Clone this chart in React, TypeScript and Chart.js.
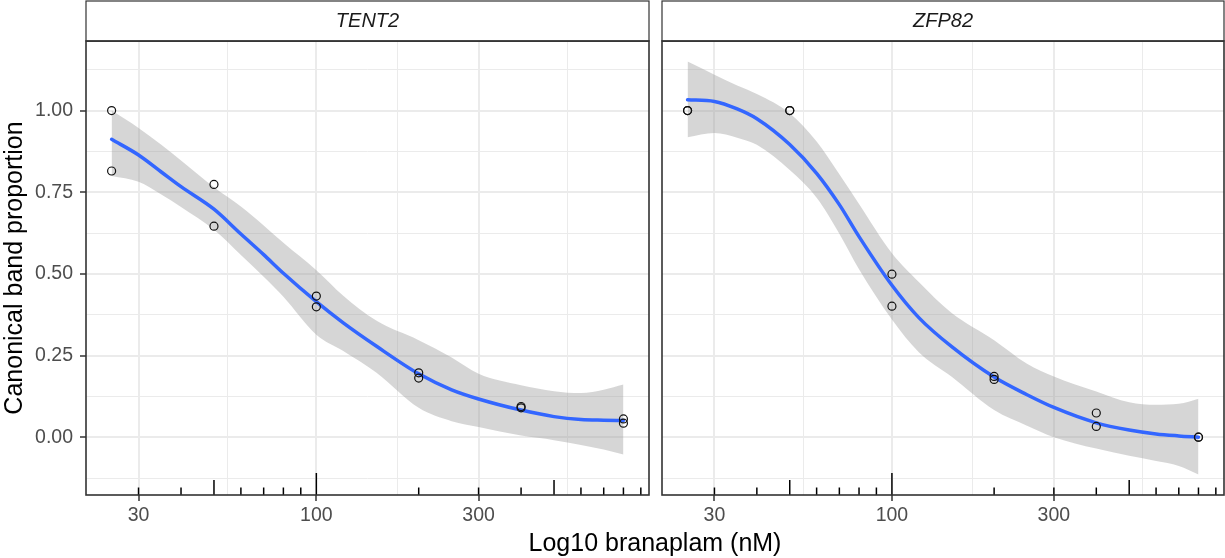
import React, { useEffect, useRef } from 'react';
import { Chart, registerables } from 'chart.js';

Chart.register(...registerables);

const doses = [25, 30, 35, 40, 50, 60, 70, 80, 100, 120, 150, 200, 250, 300, 400, 500, 600, 700, 800];

const tent2Fit = [0.912, 0.864, 0.812, 0.767, 0.698, 0.622, 0.559, 0.502, 0.415, 0.35, 0.279, 0.194, 0.145, 0.117, 0.083, 0.063, 0.054, 0.052, 0.051];
const tent2Upper = [1.0, 0.947, 0.895, 0.847, 0.765, 0.706, 0.648, 0.595, 0.511, 0.433, 0.357, 0.297, 0.244, 0.194, 0.159, 0.141, 0.135, 0.145, 0.161];
const tent2Lower = [0.8, 0.782, 0.743, 0.705, 0.635, 0.558, 0.491, 0.43, 0.314, 0.264, 0.198, 0.09, 0.049, 0.031, 0.005, -0.009, -0.024, -0.038, -0.053];

const zfp82Fit = [1.033, 1.028, 1.005, 0.975, 0.896, 0.808, 0.712, 0.614, 0.465, 0.366, 0.277, 0.184, 0.13, 0.091, 0.044, 0.022, 0.01, 0.004, 0.0];
const zfp82Upper = [1.15, 1.11, 1.077, 1.051, 0.992, 0.905, 0.805, 0.714, 0.563, 0.475, 0.38, 0.297, 0.225, 0.186, 0.14, 0.107, 0.099, 0.102, 0.118];
const zfp82Lower = [0.918, 0.931, 0.917, 0.895, 0.818, 0.733, 0.623, 0.514, 0.36, 0.26, 0.185, 0.083, 0.035, 0.0, -0.035, -0.057, -0.073, -0.088, -0.114];

// observed points
const obsDose = [25, 25, 50, 50, 100, 100, 200, 200, 400, 400, 800, 800];
const tent2Obs = [1.0, 0.815, 0.774, 0.646, 0.432, 0.399, 0.197, 0.181, 0.094, 0.09, 0.056, 0.043];
const zfp82Obs = [1.0, 1.0, 1.0, 1.0, 0.499, 0.401, 0.186, 0.177, 0.074, 0.033, 0.0, 0.0];

// axes
const xMajorTicks = [30, 100, 300];
const xMinorTicks = [54.77, 173.2, 547.7];
const yMajorTicks = [0, 0.25, 0.5, 0.75, 1];
const yMinorTicks = [-0.125, 0.125, 0.375, 0.625, 0.875, 1.125];
const logTickValues = [30, 40, 50, 60, 70, 80, 90, 100, 200, 300, 400, 500, 600, 700, 800, 900];

const xMin = 21.02;
const xMax = 951.2;
const yMin = -0.177;
const yMax = 1.213;

const FONT = '"Liberation Sans", Arial, Helvetica, sans-serif';
const RIBBON = 'rgba(153,153,153,0.4)';

const isMajor = (list: number[], v: number) => list.some((t) => Math.abs(t - v) < 1e-6);
const toPoints = (xs: number[], ys: number[]) => xs.map((x, i) => ({ x, y: ys[i] }));

const panelDecor = (label: string) => ({
  id: 'panelDecor',
  afterDatasetsDraw(chart: any) {
    const { ctx, chartArea: a, scales } = chart;
    ctx.save();
    ctx.beginPath();
    ctx.rect(a.left, a.top, a.right - a.left, a.bottom - a.top);
    ctx.clip();
    ctx.strokeStyle = '#000';
    ctx.lineWidth = 1.5;
    logTickValues.forEach((v) => {
      const m = Math.round(v / Math.pow(10, Math.floor(Math.log10(v))));
      const len = m === 1 ? 22 : m === 5 ? 15 : 7.5;
      const px = scales.x.getPixelForValue(v);
      ctx.beginPath();
      ctx.moveTo(px, a.bottom);
      ctx.lineTo(px, a.bottom - len);
      ctx.stroke();
    });
    ctx.restore();
  },
  afterDraw(chart: any) {
    const { ctx, chartArea: a } = chart;
    ctx.save();
    // panel border
    ctx.strokeStyle = '#333333';
    ctx.lineWidth = 1.6;
    ctx.strokeRect(a.left, a.top, a.right - a.left, a.bottom - a.top);
    // strip
    ctx.fillStyle = '#ffffff';
    ctx.fillRect(a.left, 1, a.right - a.left, a.top - 1);
    ctx.lineWidth = 1.2;
    ctx.strokeRect(a.left, 1, a.right - a.left, a.top - 1);
    ctx.lineWidth = 1.6;
    ctx.beginPath();
    ctx.moveTo(a.left, a.top);
    ctx.lineTo(a.right, a.top);
    ctx.stroke();
    ctx.fillStyle = '#1A1A1A';
    ctx.font = `italic 20px ${FONT}`;
    ctx.textAlign = 'center';
    ctx.textBaseline = 'middle';
    ctx.fillText(label, (a.left + a.right) / 2, 21.5);
    ctx.restore();
  },
});

type PanelProps = {
  gene: string;
  fit: number[];
  upper: number[];
  lower: number[];
  obs: number[];
  left: number;
  width: number;
  showY: boolean;
};

const Panel: React.FC<PanelProps> = ({ gene, fit, upper, lower, obs, left, width, showY }) => {
  const canvasRef = useRef<HTMLCanvasElement>(null);

  useEffect(() => {
    if (!canvasRef.current) return;

    const chart = new Chart(canvasRef.current, {
      type: 'scatter',
      data: {
        datasets: [
          {
            label: 'observed',
            data: toPoints(obsDose, obs),
            showLine: false,
            pointRadius: 4,
            pointBorderWidth: 1.2,
            pointBorderColor: '#111111',
            pointBackgroundColor: 'rgba(0,0,0,0)',
            order: 0,
          },
          {
            label: 'loess',
            data: toPoints(doses, fit),
            showLine: true,
            borderColor: '#3366FF',
            borderWidth: 3.5,
            borderCapStyle: 'round',
            borderJoinStyle: 'round',
            pointRadius: 0,
            cubicInterpolationMode: 'monotone',
            fill: false,
            order: 1,
          },
          {
            label: 'upper',
            data: toPoints(doses, upper),
            showLine: true,
            borderColor: 'rgba(0,0,0,0)',
            borderWidth: 0,
            pointRadius: 0,
            cubicInterpolationMode: 'monotone',
            fill: '+1',
            backgroundColor: RIBBON,
            order: 2,
          },
          {
            label: 'lower',
            data: toPoints(doses, lower),
            showLine: true,
            borderColor: 'rgba(0,0,0,0)',
            borderWidth: 0,
            pointRadius: 0,
            cubicInterpolationMode: 'monotone',
            fill: false,
            order: 3,
          },
        ] as any,
      },
      options: {
        animation: false,
        responsive: true,
        maintainAspectRatio: false,
        events: [],
        layout: {
          autoPadding: false,
          padding: { top: 41, left: showY ? 0 : 7, right: showY ? 6 : 1, bottom: 0 },
        },
        plugins: {
          legend: { display: false },
          tooltip: { enabled: false },
        },
        scales: {
          x: {
            type: 'logarithmic',
            min: xMin,
            max: xMax,
            afterBuildTicks: (s: any) => {
              s.ticks = [...xMajorTicks, ...xMinorTicks].sort((a, b) => a - b).map((value) => ({ value }));
            },
            afterFit: (s: any) => {
              s.height = 63;
              s.paddingLeft = 0;
              s.paddingRight = 0;
            },
            ticks: {
              autoSkip: false,
              maxRotation: 0,
              padding: 3,
              color: '#4D4D4D',
              font: { family: FONT, size: 19.5 },
              callback: (v: any) => (isMajor(xMajorTicks, Number(v)) ? String(v) : ''),
            },
            grid: {
              color: '#EBEBEB',
              lineWidth: (c: any) => (isMajor(xMajorTicks, c.tick.value) ? 2 : 1),
              tickColor: (c: any) => (isMajor(xMajorTicks, c.tick.value) ? '#333333' : 'rgba(0,0,0,0)'),
              tickLength: 6,
              tickWidth: 1.5,
            },
            border: { display: false },
          },
          y: {
            type: 'linear',
            min: yMin,
            max: yMax,
            afterBuildTicks: (s: any) => {
              s.ticks = [...yMajorTicks, ...yMinorTicks].sort((a, b) => a - b).map((value) => ({ value }));
            },
            afterFit: (s: any) => {
              s.width = showY ? 86 : 0;
              s.paddingTop = 0;
              s.paddingBottom = 0;
            },
            ticks: {
              display: showY,
              autoSkip: false,
              padding: 7,
              color: '#4D4D4D',
              font: { family: FONT, size: 19.5 },
              callback: (v: any) => (isMajor(yMajorTicks, Number(v)) ? Number(v).toFixed(2) : ''),
            },
            grid: {
              color: '#EBEBEB',
              lineWidth: (c: any) => (isMajor(yMajorTicks, c.tick.value) ? 2 : 1),
              tickColor: (c: any) => (isMajor(yMajorTicks, c.tick.value) ? '#333333' : 'rgba(0,0,0,0)'),
              drawTicks: showY,
              tickLength: 6,
              tickWidth: 1.5,
            },
            border: { display: false },
            title: {
              display: showY,
              text: 'Canonical band proportion',
              color: '#000000',
              font: { family: FONT, size: 25, lineHeight: 1.2 },
              padding: { top: 0, bottom: 0 },
            },
          },
        },
      } as any,
      plugins: [panelDecor(gene)],
    });

    return () => {
      chart.destroy();
    };
  }, []);

  return (
    <div style={{ position: 'absolute', left, top: 0, width, height: 558 }}>
      <canvas ref={canvasRef} />
    </div>
  );
};

const App: React.FC = () => {
  return (
    <div style={{ position: 'absolute', left: 0, top: 0, width: 1225, height: 558, background: '#fff', overflow: 'hidden' }}>
      <Panel gene="TENT2" fit={tent2Fit} upper={tent2Upper} lower={tent2Lower} obs={tent2Obs} left={0} width={655} showY={true} />
      <Panel gene="ZFP82" fit={zfp82Fit} upper={zfp82Upper} lower={zfp82Lower} obs={zfp82Obs} left={655} width={570} showY={false} />
      <div
        style={{
          position: 'absolute',
          left: 455,
          top: 527,
          width: 400,
          textAlign: 'center',
          fontFamily: FONT,
          fontSize: 25,
          lineHeight: '30px',
          color: '#000',
          whiteSpace: 'nowrap',
        }}
      >
        Log10 branaplam (nM)
      </div>
    </div>
  );
};

export default App;
